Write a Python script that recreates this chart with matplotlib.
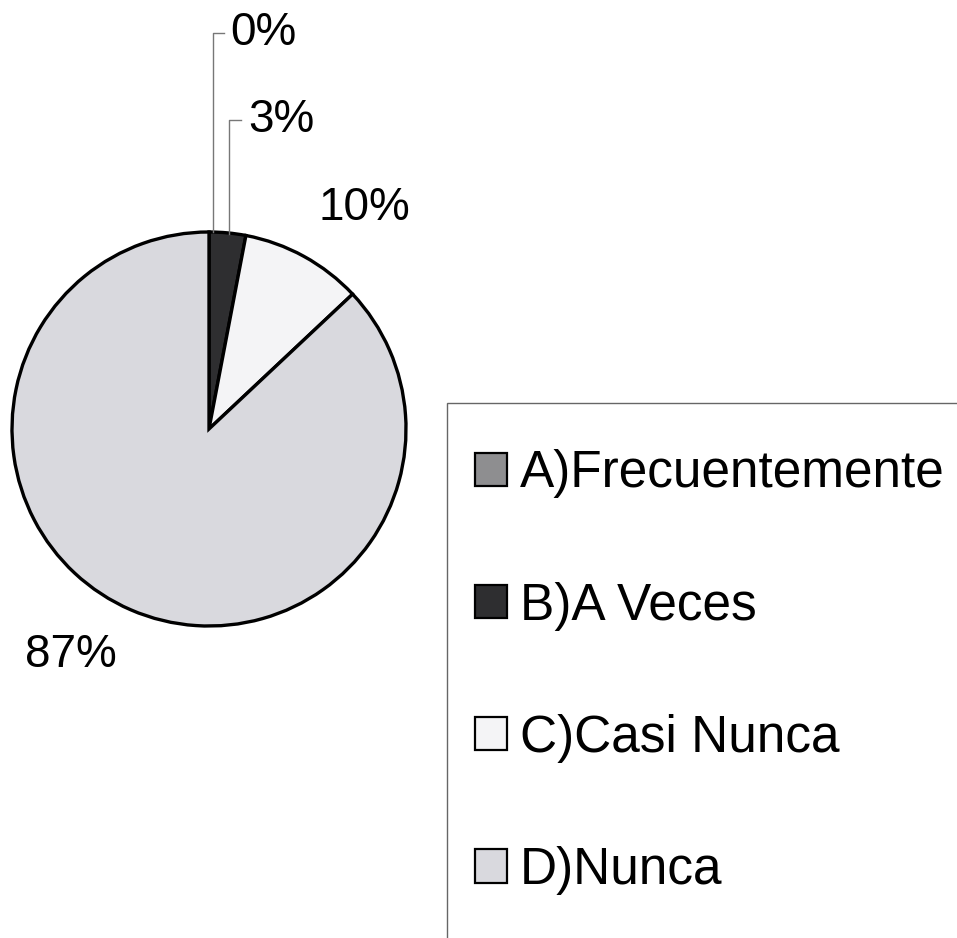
import matplotlib.pyplot as plt
from matplotlib.patches import Patch, Rectangle

plt.rcParams['font.family'] = ['Liberation Sans', 'DejaVu Sans']

categorias = ['A)Frecuentemente', 'B)A Veces', 'C)Casi Nunca', 'D)Nunca']
valores = [0, 3, 10, 87]
etiquetas = ['0%', '3%', '10%', '87%']
colores = ['#8e8e90', '#2e2e30', '#f4f4f6', '#d9d9de']

W, H = 957, 938
fig = plt.figure(figsize=(W / 100, H / 100), dpi=100)
ax = fig.add_axes([0, 0, 1, 1])
ax.set_xlim(0, W)
ax.set_ylim(0, H)
ax.set_aspect('equal')
ax.axis('off')

cx, cy, r = 209, H - 429, 197
wedges, _ = ax.pie(valores, colors=colores, startangle=90, counterclock=False,
                   radius=r, center=(cx, cy),
                   wedgeprops=dict(edgecolor='black', linewidth=2.4))
ax.set_xlim(0, W)
ax.set_ylim(0, H)

# etiquetas de porcentaje
fs = 33
ax.text(230, H - 33, etiquetas[0], fontsize=fs, va='center', ha='left')
ax.plot([213, 213, 224], [cy + r, H - 33, H - 33], color='#777777', lw=1)
ax.text(248, H - 120, etiquetas[1], fontsize=fs, va='center', ha='left')
ax.plot([229, 229, 241], [cy + r - 2, H - 120, H - 120], color='#777777', lw=1)
ax.text(318, H - 208, etiquetas[2], fontsize=fs, va='center', ha='left')
ax.text(25, H - 655, etiquetas[3], fontsize=fs, va='center', ha='left')

# marco de la leyenda (sale de la imagen por la derecha y por abajo)
ax.add_patch(Rectangle((447, -50), 600, H - 403 + 50, facecolor='none',
                       edgecolor='#666666', linewidth=1, clip_on=False))

handles = [Patch(facecolor=c, edgecolor='black', linewidth=1.6) for c in colores]
leg = ax.legend(handles, categorias, loc='upper left',
                bbox_to_anchor=(447 / W, 1 - 421 / H), bbox_transform=fig.transFigure,
                fontsize=37, frameon=False, borderpad=0.55,
                labelspacing=1.62, handlelength=0.62, handleheight=0.62,
                handletextpad=0.25, borderaxespad=0)

fig.savefig('out.png', dpi=100)
